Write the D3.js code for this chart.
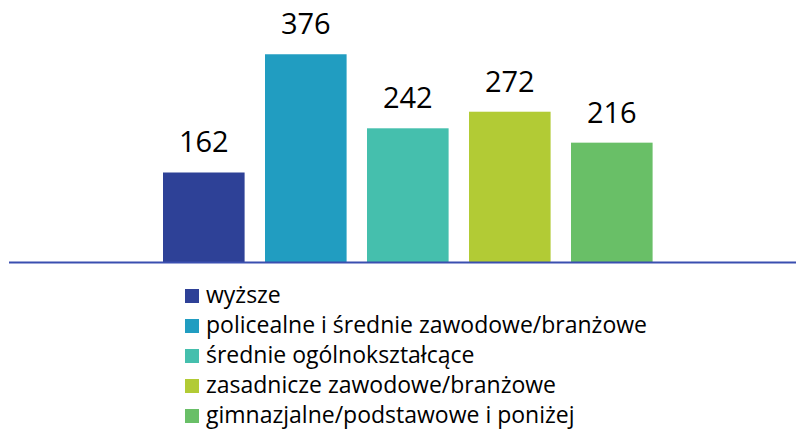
<!DOCTYPE html>
<html>
<head>
<meta charset="utf-8">
<script src="https://cdn.jsdelivr.net/npm/d3@7"></script>
<style>
  body { margin: 0; background: #fff; }
  svg text { font-family: "Open Sans", sans-serif; fill: #000; }
</style>
</head>
<body>
<svg id="chart"></svg>
<script>
// chart data
const categories = [
  "wyższe",
  "policealne i średnie zawodowe/branżowe",
  "średnie ogólnokształcące",
  "zasadnicze zawodowe/branżowe",
  "gimnazjalne/podstawowe i poniżej"
];
const values = [162, 376, 242, 272, 216];
const colors = ["#2e4197", "#219dc1", "#45bfad", "#b2cb35", "#69bf67"];

const width = 796, height = 431;
const baseline = 262;

const svg = d3.select("#chart")
  .attr("width", width)
  .attr("height", height);

// scales
const xScale = d3.scaleBand()
  .domain(categories)
  .range([152.8, 662.8])
  .paddingInner(0.2)
  .paddingOuter(0.1);

const yScale = d3.scaleLinear()
  .domain([0, 400])
  .range([baseline, baseline - 221]);

// bars
svg.selectAll(".bar")
  .data(values)
  .enter()
  .append("rect")
  .attr("class", "bar")
  .attr("x", (d, i) => xScale(categories[i]))
  .attr("y", d => yScale(d))
  .attr("width", xScale.bandwidth())
  .attr("height", d => baseline - yScale(d))
  .attr("fill", (d, i) => colors[i]);

// value labels
svg.selectAll(".label")
  .data(values)
  .enter()
  .append("text")
  .attr("class", "label")
  .attr("x", (d, i) => xScale(categories[i]) + xScale.bandwidth() / 2)
  .attr("y", d => yScale(d) - 20)
  .attr("text-anchor", "middle")
  .style("font-size", "29px")
  .text(d => d);

// x axis line
svg.append("line")
  .attr("x1", 9).attr("x2", 796)
  .attr("y1", baseline + 0.5).attr("y2", baseline + 0.5)
  .attr("stroke", "#3a4fb0")
  .attr("stroke-width", 2);

// legend
const legend = svg.append("g")
  .attr("transform", "translate(185,289)");

const rows = legend.selectAll("g")
  .data(categories)
  .enter()
  .append("g")
  .attr("transform", (d, i) => `translate(0,${i * 30})`);

rows.append("rect")
  .attr("width", 14)
  .attr("height", 14)
  .attr("fill", (d, i) => colors[i]);

rows.append("text")
  .attr("x", 21)
  .attr("y", 7)
  .attr("dy", "0.32em")
  .style("font-size", "23px")
  .text(d => d);
</script>
</body>
</html>
